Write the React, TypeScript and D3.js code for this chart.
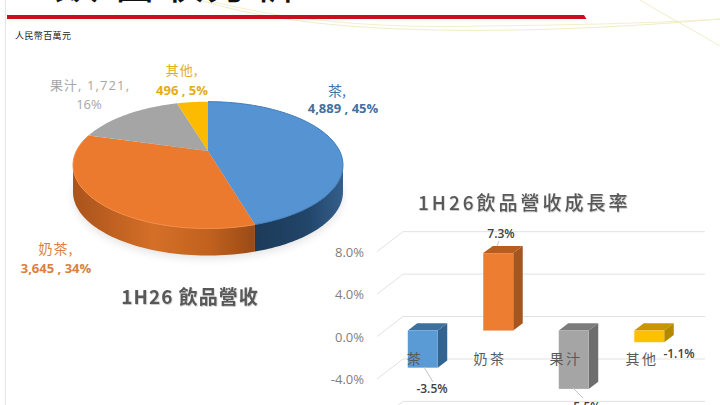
import React from 'react';
import * as d3 from 'd3';

const pieCategories = ['茶', '奶茶', '果汁', '其他'];
const pieValues = [4889, 3645, 1721, 496];
const piePercents = [45, 34, 16, 5];
const growthCategories = ['茶', '奶茶', '果汁', '其他'];
const growthValues = [-3.5, 7.3, -5.5, -1.1];
const axisTicks = [8, 4, 0, -4, -8];

const faceColors = ['#5593d2', '#ec7a2e', '#a5a5a5', '#fdbb00'];
const barFront = ['#5b9bd5', '#ed7d31', '#a5a5a5', '#ffc000'];
const barTop = ['#3c719f', '#b85d20', '#7c7c7c', '#c89600'];
const barSide = ['#32648f', '#a5561f', '#6e6e6e', '#b38900'];
const CJK = '"Noto Sans CJK TC","Noto Sans",sans-serif';
const LATIN = '"Open Sans","Noto Sans CJK TC",sans-serif';

// perspective projection of the pie's circular top face
const ax = 208, ay = 151, Rx = 131.6, Ry = 60.3, K = 0.2224, wallDepth = 27;
const project = (t: number): [number, number] => {
  const s = 1 / (1 + K * Math.cos(t));
  return [ax + Rx * Math.sin(t) * s, ay - Ry * Math.cos(t) * s];
};
const arcPoints = (a: number, b: number, dy = 0): [number, number][] =>
  d3.range(0, 61).map((i) => {
    const [x, y] = project(a + ((b - a) * i) / 60);
    return [x, y + dy] as [number, number];
  });
const lineGen = d3.line<[number, number]>();

const pieAngles = d3.pie<number>().sort(null)(pieValues);
const rightEdge = Math.acos(-K);
const leftEdge = 2 * Math.PI - rightEdge;

const yBack = d3.scaleLinear().domain([-8, 8]).range([401.4, 231.7]);
const xBar = d3.scaleBand<string>().domain(growthCategories.map((c, i) => c + i)).range([385, 687]).paddingInner(0.603).paddingOuter(0.3015);
const barOffset = 14, axisOffset = 20, dx = 9.5, dy = 7.2;
const fmtPct = (v: number) => d3.format('.1f')(v).replace('−', '-') + '%';

const gridColor = '#e2e2e2';

export default function App() {
  const bw = xBar.bandwidth();
  const valueLabels = [
    { x: 432, y: 393, lx1: 424, ly1: 367, lx2: 433, ly2: 382 },
    { x: 501, y: 238, lx1: 497, ly1: 246, lx2: 499, ly2: 241 },
    { x: 585, y: 411, lx1: 573, ly1: 388, lx2: 583, ly2: 398 },
    { x: 679, y: 358, lx1: 0, ly1: 0, lx2: 0, ly2: 0 },
  ];
  const catLabelX = [415, 490, 566, 642];
  return (
    <svg width={720} height={405} viewBox="0 0 720 405" style={{ position: 'absolute', left: 0, top: 0, background: '#fff' }}>
      <defs>
        <linearGradient id="wallBlue" gradientUnits="userSpaceOnUse" x1={250} x2={343} y1={0} y2={0}>
          <stop offset="0" stopColor="#1d3a58" />
          <stop offset="0.6" stopColor="#214468" />
          <stop offset="1" stopColor="#345f8b" />
        </linearGradient>
        <linearGradient id="wallOrange" gradientUnits="userSpaceOnUse" x1={72} x2={253} y1={0} y2={0}>
          <stop offset="0" stopColor="#a9531b" />
          <stop offset="0.45" stopColor="#d46f27" />
          <stop offset="0.75" stopColor="#c2621f" />
          <stop offset="1" stopColor="#9c4b17" />
        </linearGradient>
        <filter id="soft" x="-20%" y="-50%" width="140%" height="200%">
          <feGaussianBlur stdDeviation="5" />
        </filter>
        <filter id="txtShadow" x="-10%" y="-30%" width="120%" height="160%">
          <feDropShadow dx="0.6" dy="0.8" stdDeviation="0.6" floodColor="#000" floodOpacity="0.25" />
        </filter>
      </defs>

      {/* slide frame */}
      <path d="M200,0 C250,16 320,26 400,29 C500,33 620,28 720,19" fill="none" stroke="#f1edc4" strokeWidth={1} />
      <path d="M215,2 C300,24 400,28 480,26 C560,25 640,24 720,19" fill="none" stroke="#f3efcc" strokeWidth={1} />
      <path d="M640,0 C670,18 700,34 720,46" fill="none" stroke="#f1edc8" strokeWidth={1} />
      <line x1={5.5} y1={0} x2={5.5} y2={405} stroke="#e6e6e6" strokeWidth={1} />
      <path d="M7,15 L584,15 L586.5,19 L7,19 Z" fill="#c80f1e" />
      <text x={53} y={-2} fontFamily={CJK} fontSize={46} fill="#111" letterSpacing={1}>飲 營收分析</text>
      <text x={15} y={39} fontFamily={CJK} fontSize={9} fill="#222" letterSpacing={0.4}>人民幣百萬元</text>

      {/* pie */}
      <ellipse cx={208} cy={196} rx={134} ry={62} fill="#000" opacity={0.12} filter="url(#soft)" />
      {[0, 1].map((i) => {
        const a = pieAngles[i];
        const s = i === 0 ? rightEdge : a.startAngle;
        const e = i === 0 ? a.endAngle : leftEdge;
        const pts = [...arcPoints(s, e), ...arcPoints(s, e, wallDepth).reverse()];
        return <path key={i} d={lineGen(pts)! + 'Z'} fill={i === 0 ? 'url(#wallBlue)' : 'url(#wallOrange)'} />;
      })}
      {pieAngles.map((a, i) => (
        <path key={pieCategories[i]} d={lineGen([[ax, ay], ...arcPoints(a.startAngle, a.endAngle)])! + 'Z'} fill={faceColors[i]} />
      ))}
      <path d={lineGen(arcPoints(pieAngles[0].startAngle, pieAngles[0].endAngle))!} fill="none" stroke="#3f7cb8" strokeWidth={1} />
      <path d={lineGen(arcPoints(pieAngles[1].startAngle, pieAngles[1].endAngle))!} fill="none" stroke="#f48b47" strokeWidth={1} />

      <g textAnchor="middle" fontFamily={LATIN}>
        <text x={337} y={96} fontFamily={CJK} fontSize={14} fill="#44709f">{pieCategories[0]},</text>
        <text x={343} y={113} fontSize={13} fontWeight={700} fill="#44709f">{d3.format(',')(pieValues[0])} , {piePercents[0]}%</text>
        <text x={56} y={254} fontFamily={CJK} fontSize={14} fill="#d9813f" letterSpacing={1}>{pieCategories[1]},</text>
        <text x={56} y={273} fontSize={13} fontWeight={700} fill="#d9813f">{d3.format(',')(pieValues[1])} , {piePercents[1]}%</text>
        <text x={90} y={90} fontSize={13} fill="#a6a6a6" letterSpacing={1.1}><tspan fontFamily={CJK}>{pieCategories[2]}</tspan>, {d3.format(',')(pieValues[2])},</text>
        <text x={89} y={109} fontSize={13} fill="#a6a6a6">{piePercents[2]}%</text>
        <text x={182} y={75} fontFamily={CJK} fontSize={13} fill="#e3ad12" letterSpacing={1}>{pieCategories[3]},</text>
        <text x={182} y={95} fontSize={13} fontWeight={700} fill="#e3ad12">{pieValues[3]} , {piePercents[3]}%</text>
      </g>
      <text x={190} y={304} textAnchor="middle" fontFamily={CJK} fontSize={19} fontWeight={700} fill="#595959" filter="url(#txtShadow)" letterSpacing={1}>1H26 飲品營收</text>

      {/* growth chart */}
      <text x={418} y={210} fontFamily={CJK} fontSize={19} fontWeight={500} fill="#595959" filter="url(#txtShadow)" letterSpacing={3}>1H26飲品營收成長率</text>
      {axisTicks.map((t) => (
        <g key={t}>
          <line x1={403} x2={705} y1={yBack(t)} y2={yBack(t)} stroke={gridColor} strokeWidth={1} />
          <line x1={377} x2={403} y1={yBack(t) + axisOffset} y2={yBack(t)} stroke={gridColor} strokeWidth={1} />
          {t > -8 && (
            <text x={364} y={yBack(t) + axisOffset + 5} textAnchor="end" fontFamily={LATIN} fontSize={13} fill="#7f7f7f">{fmtPct(t)}</text>
          )}
        </g>
      ))}
      {growthValues.map((v, i) => {
        const x = xBar(growthCategories[i] + i)!;
        const y0 = yBack(0) + barOffset;
        const y1 = yBack(v) + barOffset;
        const top = Math.min(y0, y1);
        const bot = Math.max(y0, y1);
        return (
          <g key={i}>
            <path d={`M${x},${top} L${x + dx},${top - dy} L${x + bw + dx},${top - dy} L${x + bw},${top} Z`} fill={barTop[i]} />
            <path d={`M${x + bw},${top} L${x + bw + dx},${top - dy} L${x + bw + dx},${bot - dy} L${x + bw},${bot} Z`} fill={barSide[i]} />
            <rect x={x} y={top} width={bw} height={bot - top} fill={barFront[i]} />
          </g>
        );
      })}
      {valueLabels.map((l, i) => (
        <g key={i}>
          {l.lx1 > 0 && <line x1={l.lx1} y1={l.ly1} x2={l.lx2} y2={l.ly2} stroke="#c4c4c4" strokeWidth={1} />}
          <text x={l.x} y={l.y} textAnchor="middle" fontFamily={LATIN} fontSize={12} fontWeight={600} fill="#404040">{fmtPct(growthValues[i])}</text>
        </g>
      ))}
      {growthCategories.map((c, i) => (
        <text key={i} x={catLabelX[i]} y={364} textAnchor="middle" fontFamily={CJK} fontSize={14} fill="#595959" letterSpacing={2.5}>{c}</text>
      ))}
    </svg>
  );
}
